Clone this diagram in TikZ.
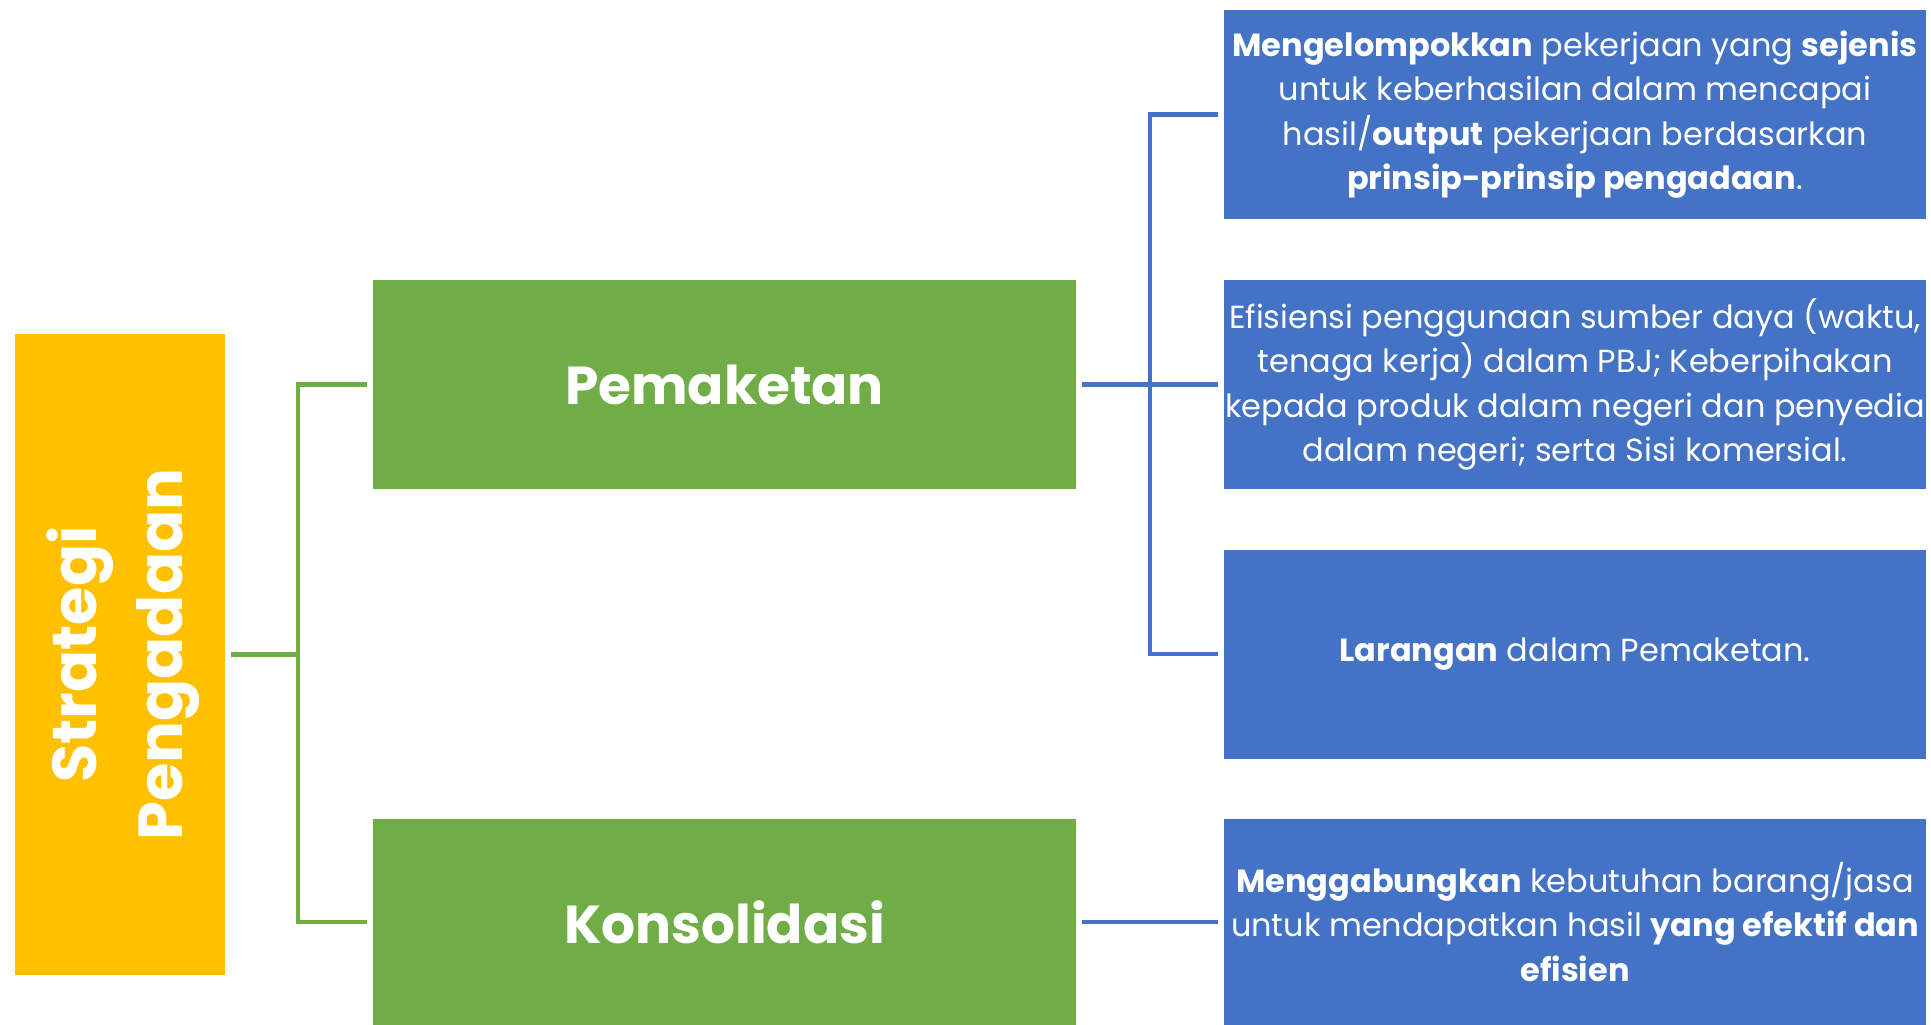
\documentclass[tikz,border=0pt]{standalone}
\usepackage{fontspec}
\setmainfont{Poppins}
\definecolor{kuning}{HTML}{FFC000}
\definecolor{hijau}{HTML}{70AD47}
\definecolor{biru}{HTML}{4472C4}
\tikzset{
	yellowbox/.style={fill=kuning, text=white, minimum width=2.1cm, minimum height=6.41cm, inner sep=0pt, outer sep=0.06cm},
	greenbox/.style={fill=hijau, text=white, minimum width=7.03cm, minimum height=2.09cm, inner sep=0pt, outer sep=0.06cm, font=\fontsize{15.2}{18}\selectfont\bfseries},
	bluebox/.style={fill=biru, text=white, minimum width=7.02cm, minimum height=2.09cm, inner sep=0pt, outer sep=0.06cm, align=center, font=\fontsize{9.1}{12.6}\selectfont},
	gline/.style={draw=hijau, line width=1.3pt},
	bline/.style={draw=biru, line width=1.3pt}
}
\begin{document}
\begin{tikzpicture}
				\useasboundingbox (0,0) rectangle (19.31,-10.25);
				
				%strategi
				\node (strategi) at (1.2,-6.545) [yellowbox]{};
				\node at ([xshift=0.03cm]strategi.center) [rotate=90, text=white, align=center, font=\fontsize{17.7}{24.5}\selectfont\bfseries]{Strategi\\Pengadaan};
				
				%pemaketan and konsolidasi
				\node (pemaketan) at (7.245,-3.845) [greenbox]{Pemaketan};
				\node (konsolidasi) at (7.245,-9.22) [greenbox, minimum height=2.06cm]{Konsolidasi};
				
				%keterangan
				\node (kelompok) at (15.75,-1.145) [bluebox]{\textbf{Mengelompokkan} pekerjaan yang \textbf{sejenis}\\untuk keberhasilan dalam mencapai\\hasil/\textbf{output} pekerjaan berdasarkan\\\textbf{prinsip-prinsip pengadaan}.};
				\node (efisiensi) at (15.75,-3.845) [bluebox]{Efisiensi penggunaan sumber daya (waktu,\\tenaga kerja) dalam PBJ; Keberpihakan\\kepada produk dalam negeri dan penyedia\\dalam negeri; serta Sisi komersial.};
				\node (larangan) at (15.75,-6.54) [bluebox]{\textbf{Larangan} dalam Pemaketan.};
				\node (gabung) at (15.75,-9.22) [bluebox, minimum height=2.06cm]{\textbf{Menggabungkan} kebutuhan barang/jasa\\untuk mendapatkan hasil \textbf{yang efektif dan}\\\textbf{efisien}};
				
				%green connectors
				\draw[gline] (strategi.east) -- ++(0.67,0) coordinate (gj) |- (pemaketan.west);
				\draw[gline] (gj) |- (konsolidasi.west);
				
				%blue connectors
				\draw[bline] (pemaketan.east) -- ++(0.68,0) coordinate (bj) |- (kelompok.west);
				\draw[bline] (bj) |- (larangan.west);
				\draw[bline] (bj) -- (efisiensi.west);
				\draw[bline] (konsolidasi.east) -- (gabung.west);
			\end{tikzpicture}
\end{document}
